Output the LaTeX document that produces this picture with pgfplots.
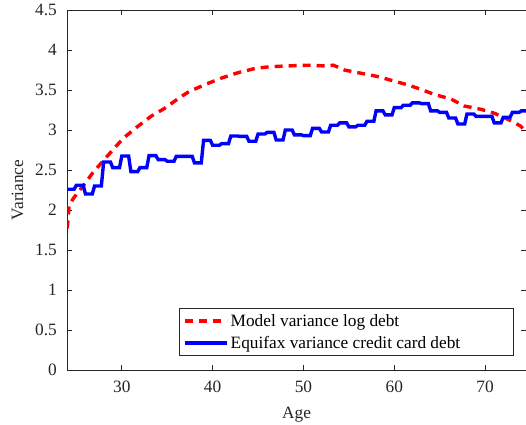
\documentclass[border=0pt]{standalone}
\usepackage{fontspec}
\setmainfont{Liberation Serif}
\usepackage{pgfplots}
\pgfplotsset{compat=1.18}
\definecolor{axgray}{rgb}{0.15,0.15,0.15}
\newcommand\ff{\rmfamily\fontsize{17.3pt}{20pt}\selectfont}
\begin{document}
\begin{tikzpicture}[font=\ff]
\begin{axis}[
  scale only axis,
  width=458.7pt, height=360pt,
  xmin=24, xmax=74.5, ymin=0, ymax=4.5,
  xtick={30,40,50,60,70},
  xticklabels={30,40,50,60,70},
  ytick={0,0.5,1,1.5,2,2.5,3,3.5,4,4.5},
  yticklabels={0,0.5,1,1.5,2,2.5,3,3.5,4,4.5},
  /pgf/number format/assume math mode=true,
  tick align=inside,
  major tick length=4.6pt,
  axis line style={axgray, line width=0.6pt},
  every tick/.style={axgray, line width=0.6pt},
  tick label style={font=\ff, text=axgray},
  xticklabel style={yshift=-7pt},
  yticklabel style={xshift=-7pt},
  label style={font=\ff, text=axgray},
  xlabel={Age},
  ylabel={Variance},
  xlabel style={yshift=-8pt},
  ylabel style={yshift=5pt},
  legend style={at={(0.9738,0.0397)}, anchor=south east, draw=axgray, line width=0.6pt,
    fill=white, font=\ff, inner xsep=4pt, inner ysep=3.5pt, row sep=4.5pt},
  legend cell align=left,
  legend image code/.code={\draw[#1] (0pt,0pt) -- (42pt,0pt);},
]
\addplot[red, line width=3.4pt, dash pattern=on 8pt off 6pt] coordinates {
(24,1.77)(24.2,2.06)(24.7,2.15)(25.8,2.31)(26.9,2.48)(28,2.62)(29.15,2.77)
(30.2,2.90)(31.7,3.04)(33.2,3.17)(34.7,3.27)(36.3,3.40)(37.4,3.48)(39.2,3.57)
(41,3.65)(42.9,3.72)(44.7,3.77)(46.2,3.79)(48,3.80)(50.6,3.81)(52.5,3.80)
(53.3,3.81)(54.5,3.75)(56.3,3.71)(58.1,3.67)(59.7,3.62)(61.3,3.57)(62.9,3.51)
(64.5,3.44)(66.2,3.39)(67.7,3.30)(69.5,3.26)(71,3.21)(72.4,3.14)(73.9,3.05)(74.5,2.98)
};
\addlegendentry{Model variance log debt}
\addplot[blue, line width=3.4pt] coordinates {
(24,2.26)(24.75,2.26)(25,2.31)(25.75,2.31)(26,2.20)(26.75,2.20)(27,2.30)(27.75,2.30)
(28,2.60)(28.75,2.60)(29,2.53)(29.75,2.53)(30,2.675)(30.75,2.675)(31,2.48)(31.75,2.48)
(32,2.53)(32.75,2.53)(33,2.68)(33.75,2.68)(34,2.63)(34.75,2.63)(35,2.61)(35.75,2.61)
(36,2.67)(36.75,2.67)(37,2.67)(37.75,2.67)(38,2.59)(38.75,2.59)(39,2.87)(39.75,2.87)
(40,2.81)(40.75,2.81)(41,2.83)(41.75,2.83)(42,2.925)(42.75,2.925)(43,2.92)(43.75,2.92)
(44,2.86)(44.75,2.86)(45,2.95)(45.75,2.95)(46,2.97)(46.75,2.97)(47,2.875)(47.75,2.875)
(48,3.00)(48.75,3.00)(49,2.94)(49.75,2.94)(50,2.93)(50.75,2.93)(51,3.02)(51.75,3.02)
(52,2.975)(52.75,2.975)(53,3.06)(53.75,3.06)(54,3.09)(54.75,3.09)(55,3.04)(55.75,3.04)
(56,3.06)(56.75,3.06)(57,3.11)(57.75,3.11)(58,3.24)(58.75,3.24)(59,3.19)(59.75,3.19)
(60,3.28)(60.75,3.28)(61,3.31)(61.75,3.31)(62,3.34)(62.75,3.34)(63,3.33)(63.75,3.33)
(64,3.24)(64.75,3.24)(65,3.22)(65.75,3.22)(66,3.15)(66.75,3.15)(67,3.075)(67.75,3.075)
(68,3.20)(68.75,3.20)(69,3.17)(69.75,3.17)(70,3.17)(70.75,3.17)(71,3.09)(71.75,3.09)
(72,3.16)(72.75,3.16)(73,3.22)(73.75,3.22)(74,3.24)(74.5,3.24)
};
\addlegendentry{\makebox[277pt][l]{Equifax variance credit card debt}}
\end{axis}
\pgfresetboundingbox
\path[use as bounding box] (-67.3pt,-54pt) rectangle (458.7pt,370pt);
\end{tikzpicture}
\end{document}
